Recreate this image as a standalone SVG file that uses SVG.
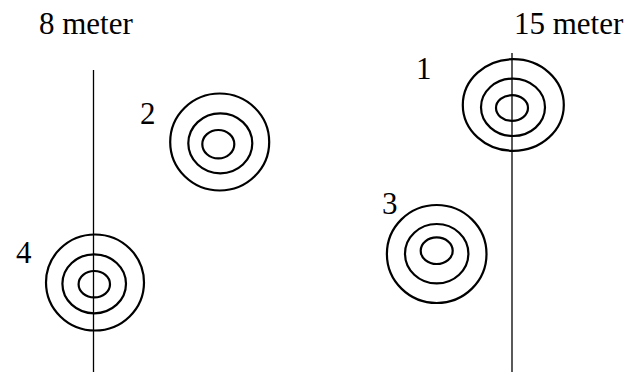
<svg xmlns="http://www.w3.org/2000/svg" width="627" height="374" viewBox="0 0 627 374">
<style>
.t{font-family:"Liberation Serif","Times New Roman",serif;font-size:31px;fill:#000}
.ring{fill:none;stroke:#000;stroke-width:2.2}
.ln{stroke:#000;stroke-width:1.3}
</style>
<rect width="627" height="374" fill="#fff"/>
<text class="t" x="39" y="33.5">8 meter</text>
<text class="t" x="514" y="33.5">15 meter</text>
<g id="connectors">
<line class="ln" x1="93.5" y1="70" x2="93.5" y2="372"/>
<line class="ln" x1="512" y1="53" x2="512" y2="372"/>
</g>
<g id="target1">
<ellipse class="ring" cx="513.3" cy="105" rx="50.5" ry="45.8"/>
<ellipse class="ring" cx="513" cy="107.3" rx="32" ry="28.7"/>
<ellipse class="ring" cx="512" cy="108" rx="16" ry="12.8"/>
<text class="t" x="416" y="79">1</text>
</g>
<g id="target2">
<ellipse class="ring" cx="219.7" cy="142" rx="49.5" ry="48.5"/>
<ellipse class="ring" cx="220.3" cy="143.3" rx="32" ry="30"/>
<ellipse class="ring" cx="218.3" cy="144.2" rx="16" ry="14.2"/>
<text class="t" x="140" y="123.5">2</text>
</g>
<g id="target3">
<ellipse class="ring" cx="436.7" cy="254" rx="49.8" ry="49"/>
<ellipse class="ring" cx="436.7" cy="253.7" rx="31.7" ry="29.7"/>
<ellipse class="ring" cx="436.7" cy="250.7" rx="16" ry="13.3"/>
<text class="t" x="382" y="214">3</text>
</g>
<g id="target4">
<ellipse class="ring" cx="95" cy="282.5" rx="49" ry="48"/>
<ellipse class="ring" cx="94.2" cy="283.8" rx="31.8" ry="29.5"/>
<ellipse class="ring" cx="94.3" cy="284.2" rx="15.7" ry="13.2"/>
<text class="t" x="16" y="262.5">4</text>
</g>
</svg>
